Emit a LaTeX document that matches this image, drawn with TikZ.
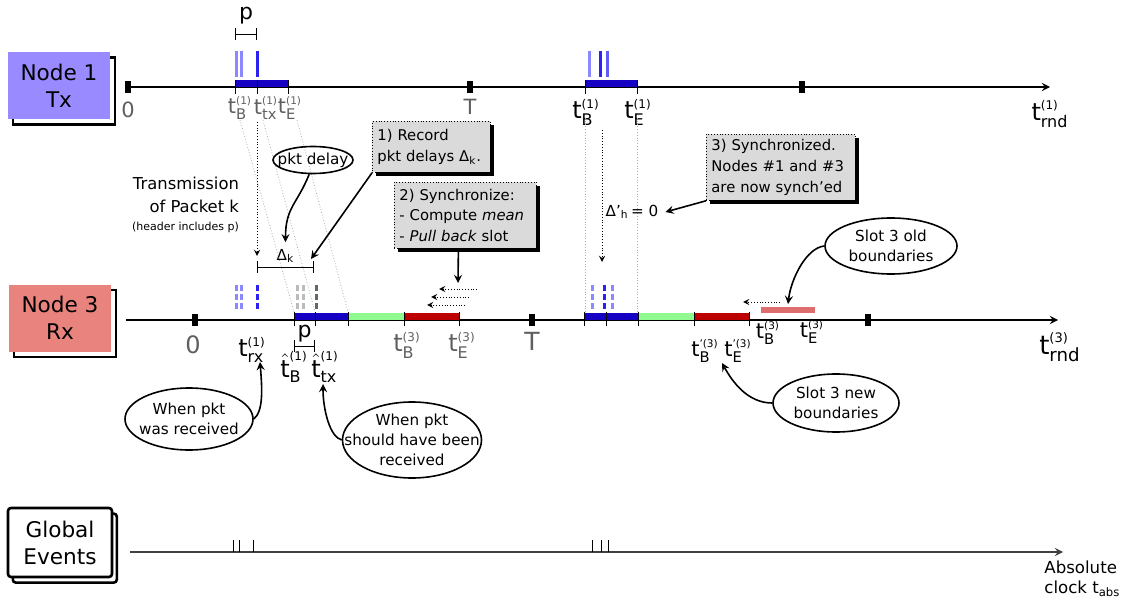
\documentclass[tikz,border=0pt]{standalone}
\usepackage{fontspec}
\setmainfont{DejaVu Sans}
\usepackage{amsmath}
\usetikzlibrary{arrows,shapes,shadows,calc}

\definecolor{txfill}{RGB}{153,138,255}
\definecolor{rxfill}{RGB}{232,131,125}
\definecolor{slotblue}{RGB}{22,0,196}
\definecolor{pktlight}{RGB}{140,136,255}
\definecolor{pktblue}{RGB}{45,35,240}
\definecolor{slotgreen}{RGB}{144,250,144}
\definecolor{slotred}{RGB}{188,0,0}
\definecolor{oldslot}{RGB}{222,110,110}
\definecolor{labgray}{RGB}{95,95,95}
\definecolor{notegray}{RGB}{218,218,218}
\definecolor{ghostgray}{RGB}{185,188,188}
\definecolor{ghostdark}{RGB}{95,105,105}

\newcommand{\tlab}[2]{\ensuremath{\text{t}^{\scriptscriptstyle\text{#2}}_{\text{#1}}}}
\newcommand{\hlab}[2]{\ensuremath{\hat{\text{t}}^{\scriptscriptstyle\text{#2}}_{\text{#1}}}}

\tikzstyle{clockbox}=[minimum width=51pt,minimum height=33.5pt,inner sep=0pt,align=center,font=\fontsize{10.8}{13.5}\selectfont]
\tikzstyle{boxshadow}=[copy shadow={draw=black,fill=white,line width=1.3pt,shadow xshift=2.4pt,shadow yshift=-2.8pt}]
\tikzstyle{timeline}=[draw,thick,-stealth]
\tikzstyle{trace}=[draw,gray!65,densely dotted,thin]
\tikzstyle{delayarrow}=[draw,densely dotted,-stealth]
\tikzstyle{pullback}=[draw,densely dotted,-stealth]
\tikzstyle{txmark}=[line width=1.5pt]
\tikzstyle{rxmark}=[line width=1.5pt,dash pattern=on 3pt off 1.5pt]
\tikzstyle{notebox}=[draw,densely dotted,fill=notegray,align=left,inner xsep=2.5pt,inner ysep=2pt,font=\fontsize{7.4}{10.4}\selectfont,drop shadow={opacity=1,fill=black,shadow xshift=2pt,shadow yshift=-1.8pt}]
\tikzstyle{bubble}=[ellipse,draw,thick,inner sep=0pt]
\tikzstyle{bubbletext}=[align=center,inner sep=0pt,font=\fontsize{7.6}{10}\selectfont]
\tikzstyle{callout}=[draw,thick,-stealth]
\tikzstyle{glabel}=[text=labgray,inner sep=0pt]
\tikzstyle{blabel}=[inner sep=0pt]

\begin{document}
\begin{tikzpicture}[x=0.5pt,y=-0.5pt]
\useasboundingbox (0,0) rectangle (1128,604);

% clocks
\node[clockbox,boxshadow,fill=txfill] (node1) at (59,85.5) {Node 1\\Tx};
\node[clockbox,boxshadow,fill=rxfill] (node3) at (60,318) {Node 3\\Rx};
\node[clockbox,boxshadow,fill=white,draw,line width=1.3pt,rounded corners=1.5pt,minimum width=52pt,minimum height=34.5pt] (global) at (60,542.5) {Global\\Events};

\foreach \name/\x/\y in {ax1s/125/87,ax1e/1050/87,ax3s/126/320,ax3e/1058/320,axgs/130/552,axge/1063/552}
    \coordinate (\name) at (\x,\y);
\path[timeline] (ax1s) -- (ax1e);
\path[timeline] (ax3s) -- (ax3e);
\path[timeline,black!75] (axgs) -- (axge);

\foreach \x in {128,470,802} \fill (\x-3,81) rectangle (\x+3,93);
\foreach \x in {195,532,868} \fill (\x-3,314) rectangle (\x+3,326);

% slots of node 1
\fill[slotblue] (235,80) rectangle (288,87);
\fill[slotblue] (585,80) rectangle (637,87);
\foreach \x in {235,257,288,585,637} \draw (\x,80) -- (\x,94);
\foreach \x/\c in {236/pktlight,241/pktlight,257/pktblue,589/pktlight,600/pktblue,607/pktblue!75}
    \draw[txmark,\c] (\x,51) -- (\x,77);

% slots of node 3
\fill[slotblue] (294,313) rectangle (348,320);
\fill[slotgreen] (348,313) rectangle (404,320);
\fill[slotred] (404,313) rectangle (459,320);
\fill[slotblue] (584,313) rectangle (638,320);
\fill[slotgreen] (638,313) rectangle (694,320);
\fill[slotred] (694,313) rectangle (749,320);
\fill[oldslot] (761,307) rectangle (815,313);
\foreach \x in {294,315,348,404,459,584,606,638,694,749} \draw (\x,312) -- (\x,326);
\foreach \x/\c in {236/pktlight,241/pktlight,257/pktblue,297/ghostgray,303/ghostgray,316/ghostdark,592/pktlight,604/pktblue,612/pktlight}
    \draw[rxmark,\c] (\x,285) -- (\x,311);

% global events
\foreach \x in {233,239,253,592,601,608} \draw (\x,540) -- (\x,552);

% labels
\foreach \name/\x/\y/\txt in {zero1/128/110/0,T1/470/107/T,tB1/240/108/{\tlab{B}{(1)}},ttx1/266/108/{\tlab{tx}{(1)}},tE1/290/108/{\tlab{E}{(1)}}}
    \node[glabel,font=\fontsize{10.5}{12}\selectfont] (\name) at (\x,\y) {\txt};
\foreach \name/\x/\y/\txt in {tB1b/586/112/{\tlab{B}{(1)}},tE1b/638/112/{\tlab{E}{(1)}},trnd1/1050/114/{\tlab{rnd}{(1)}},trx/252/350/{\tlab{rx}{(1)}},hB/294/367/{\hlab{B}{(1)}},htx/325/367/{\hlab{tx}{(1)}}}
    \node[blabel,font=\fontsize{12}{14}\selectfont] (\name) at (\x,\y) {\txt};
\foreach \name/\x/\y/\txt in {zero3/193/345/0,tB3/407/345/{\tlab{B}{(3)}},tE3/462/345/{\tlab{E}{(3)}}}
    \node[glabel,font=\fontsize{12}{14}\selectfont] (\name) at (\x,\y) {\txt};
\node[glabel,font=\fontsize{12.5}{14}\selectfont] (T3) at (532,341) {T};
\foreach \name/\x/\y/\txt in {tBnew/705/351/{\tlab{B}{'(3)}},tEnew/738/351/{\tlab{E}{'(3)}},tBold/768/333/{\tlab{B}{(3)}},tEold/812/332/{\tlab{E}{(3)}}}
    \node[blabel,font=\fontsize{10.5}{12}\selectfont] (\name) at (\x,\y) {\txt};
\node[blabel,font=\fontsize{13}{15}\selectfont] (trnd3) at (1060,347) {\tlab{rnd}{(3)}};
\node[align=left,anchor=north west,inner sep=0pt,font=\fontsize{8.3}{10}\selectfont] (abslabel) at (1044,560) {Absolute\\clock \ensuremath{\text{t}_{\text{abs}}}};

% packet length p
\foreach \name/\x/\y in {pa/235/34,pb/257/34,pc/294/346,pd/315/346,dk1/257/267,dk2/314/267}
    \coordinate (\name) at (\x,\y);
\draw[|-|] (pa) -- node[above=1.5pt,font=\fontsize{11}{13}\selectfont] (ptop) {p} (pb);
\draw[|-|] (pc) -- node[above=-1.5pt,font=\fontsize{11}{13}\selectfont] (pbot) {p} (pd);
\draw[|-|] (dk1) -- node[above=-1.5pt,font=\fontsize{7.6}{9}\selectfont] (dk) {\ensuremath{\text{Δ}_{\text{k}}}} (dk2);

% traces of the packet
\foreach \name/\x/\y in {s1B/240/120,s1tx/263/120,s1E/297/120,r1B/294/312,r1tx/315/312,r1E/348/312,s2B/585/118,s2E/637/118,r2B/585/312,r2E/637/312}
    \coordinate (\name) at (\x,\y);
\foreach \source/ \dest in {s1B/r1B,s1tx/r1tx,s1E/r1E,s2B/r2B,s2E/r2E}
    \path[trace] (\source) -- (\dest);

\foreach \name/\x/\y in {d1s/257/122,d1e/257/256,d2s/602/130,d2e/602/262}
    \coordinate (\name) at (\x,\y);
\path[delayarrow] (d1s) -- (d1e);
\path[delayarrow] (d2s) -- (d2e);

% pull back
\foreach \name/\x/\y in {pb1s/477/289,pb1e/439/289,pb2s/469/297,pb2e/431/297,pb3s/465/305,pb3e/427/305,pb4s/780/302,pb4e/743/302}
    \coordinate (\name) at (\x,\y);
\foreach \source/ \dest in {pb1s/pb1e,pb2s/pb2e,pb3s/pb3e,pb4s/pb4e}
    \path[pullback] (\source) -- (\dest);

\node[align=right,anchor=east,font=\fontsize{8.2}{11.7}\selectfont] (txnote) at (246,205) {Transmission\\of Packet k\\[-2.5pt]{\fontsize{5.5}{6}\selectfont(header includes p)}};
\node[font=\fontsize{7.6}{9}\selectfont] (dprime) at (632,212) {\ensuremath{\text{Δ'}_{\text{h}}}\,= 0};

% steps
\node[notebox,anchor=north west,text width=54pt,minimum height=25.5pt] (record) at (372,121) {1) Record\\pkt delays \ensuremath{\text{Δ}_{\text{k}}}.};
\node[notebox,anchor=north west,text width=66pt,minimum height=33pt] (sync) at (394,182) {2) Synchronize:\\- Compute \emph{mean}\\- \emph{Pull back} slot};
\node[notebox,anchor=north west,text width=69.5pt,minimum height=33pt] (synced) at (706,134) {3) Synchronized.\\Nodes \#1 and \#3\\are now synch'ed};

% bubbles
\node[bubble,minimum width=40pt,minimum height=13.5pt,label={[bubbletext]center:pkt delay}] (pktdelay) at (313,160) {};
\node[bubble,minimum width=66pt,minimum height=28pt,label={[bubbletext]center:Slot 3 old\\boundaries}] (oldb) at (891,246) {};
\node[bubble,minimum width=63pt,minimum height=29pt,label={[bubbletext]center:Slot 3 new\\boundaries}] (newb) at (836,403) {};
\node[bubble,minimum width=64pt,minimum height=31pt,label={[bubbletext]center:When pkt\\was received}] (rxwhen) at (189,419) {};
\node[bubble,minimum width=69.5pt,minimum height=38pt,label={[bubbletext]center:When pkt\\should have been\\received}] (shouldrx) at (412,440) {};

% callouts
\foreach \name/\x/\y in {dkhit/311/259,pullhit/458/283,oldhit/788/304,newhit/722/363,rxhit/260/362,txhit/323/384}
    \coordinate (\name) at (\x,\y);
\path[callout] (pktdelay.255) .. controls +(-12,30) and +(0,-35) .. (dk.north);
\path[callout] (record.south west) -- (dkhit);
\path[callout] ([xshift=-3.5pt]sync.south) -- (pullhit);
\path[callout] (synced.south west) -- (dprime.east);
\path[callout] (oldb.west) .. controls +(-18,2) and +(3,-25) .. (oldhit);
\path[callout] (newb.west) .. controls +(-25,0) and +(10,18) .. (newhit);
\path[callout] (rxwhen.east) .. controls +(10,-8) and +(2,25) .. (rxhit);
\path[callout] (shouldrx.west) .. controls +(-12,-3) and +(0,25) .. (txhit);

\end{tikzpicture}
\end{document}
